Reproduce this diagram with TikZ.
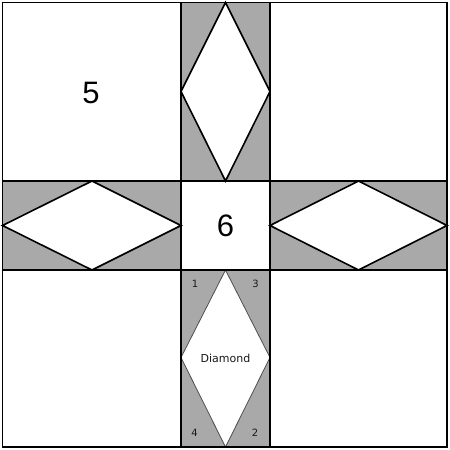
\documentclass[tikz,border=0pt]{standalone}
\usepackage{fontspec}
\setmainfont{Liberation Sans}
\newfontfamily\smallfont{DejaVu Sans}
\definecolor{quiltgray}{RGB}{169,169,169}
\tikzset{
  cellline/.style={draw=black, line width=1.5pt},
  stripfill/.style={fill=quiltgray},
  diamondbig/.style={fill=white, draw=black, line width=1.6pt, line join=miter},
  diamondthin/.style={fill=white, draw=black!70, line width=0.8pt},
  bignum/.style={font=\fontsize{31}{31}\selectfont, inner sep=0pt},
  smalllab/.style={font=\smallfont\fontsize{10}{10}\selectfont, text=black!90, inner sep=0pt},
  difflab/.style={font=\smallfont\fontsize{11}{11}\selectfont, text=black!90, inner sep=0pt}
}
\begin{document}
\begin{tikzpicture}[x=1pt,y=-1pt]
\useasboundingbox (0,0) rectangle (450,450);
\fill[white] (0,0) rectangle (450,450);
% gray strips
\fill[stripfill] (181,2.5) rectangle (270,181);
\fill[stripfill] (2.5,181) rectangle (181,270);
\fill[stripfill] (270,181) rectangle (447,270);
\fill[stripfill] (181,270) rectangle (270,447);
% diamonds
\draw[diamondbig] (225.5,2.5) -- (270,91.5) -- (225.5,181) -- (181,91.5) -- cycle;
\draw[diamondbig] (2.5,225.5) -- (92,181) -- (181,225.5) -- (92,270) -- cycle;
\draw[diamondbig] (270,225.5) -- (358.5,181) -- (447,225.5) -- (358.5,270) -- cycle;
\draw[diamondthin] (225.5,270) -- (270,357.5) -- (225.5,447) -- (181,357.5) -- cycle;
% grid lines
\draw[cellline] (181,2.5) -- (181,447);
\draw[cellline] (270,2.5) -- (270,447);
\draw[cellline] (2.5,181) -- (447,181);
\draw[cellline] (2.5,270) -- (447,270);
\draw[cellline] (2.5,2.5) rectangle (447,447);
% labels
\node[bignum] (five) at (91,93) {5};
\node[bignum] (six) at (225.5,226) {6};
\node[difflab] (dia) at (225.5,358) {Diamond};
\node[smalllab] (l1) at (195,283.5) {1};
\node[smalllab] (l3) at (255.5,283.5) {3};
\node[smalllab] (l4) at (194.5,433) {4};
\node[smalllab] (l2) at (255,433) {2};
\end{tikzpicture}
\end{document}
